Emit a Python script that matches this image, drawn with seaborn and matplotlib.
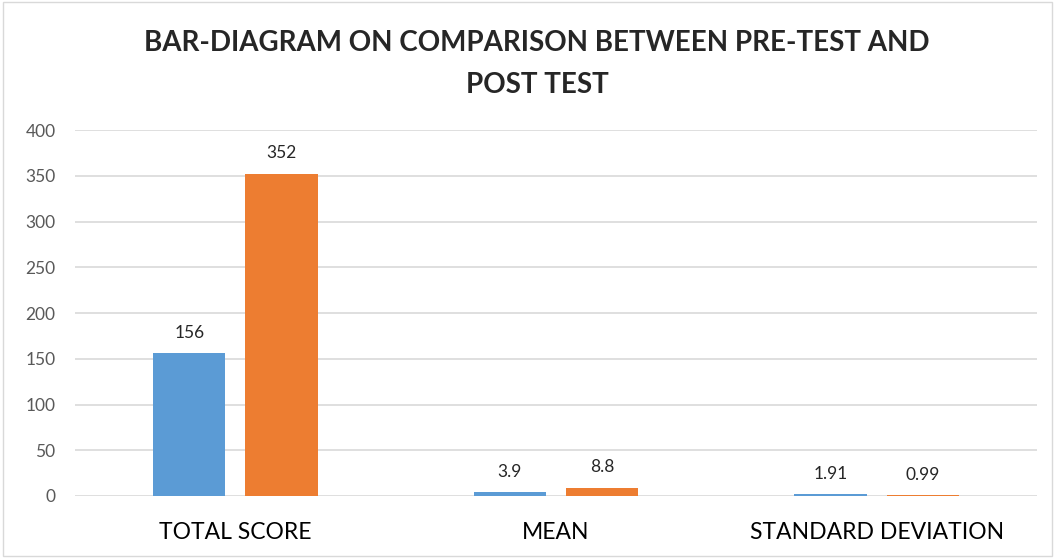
# Bar diagram: pre-test vs post-test comparison
import pandas as pd
import matplotlib.pyplot as plt
import seaborn as sns

# Data
categories = ["TOTAL SCORE", "MEAN", "STANDARD DEVIATION"]
pre_test = [156, 3.9, 1.91]
post_test = [352, 8.8, 0.99]
pre_labels = ["156", "3.9", "1.91"]
post_labels = ["352", "8.8", "0.99"]

df = pd.DataFrame({
    "category": categories * 2,
    "test": ["Pre-Test"] * 3 + ["Post Test"] * 3,
    "value": pre_test + post_test,
})

sns.set_style("white")
plt.rcParams["font.family"] = ["Lato", "DejaVu Sans"]

fig = plt.figure(figsize=(10.55, 5.58), dpi=100)
ax = fig.add_axes([75 / 1055, 62 / 558, 962 / 1055, 366 / 558])

sns.barplot(
    data=df, x="category", y="value", hue="test",
    palette=["#5B9BD5", "#ED7D31"], saturation=1,
    width=0.575, gap=0.217, legend=False, linewidth=0, ax=ax,
)

ax.set_ylim(0, 400)
ax.set_yticks(range(0, 401, 50))
ax.yaxis.grid(True, color="#D9D9D9", linewidth=1.2)
ax.set_axisbelow(True)
for s in ax.spines.values():
    s.set_visible(False)
ax.set_xlabel("")
ax.set_ylabel("")
ax.tick_params(axis="y", labelsize=12.5, colors="#595959", length=0, pad=14)
ax.tick_params(axis="x", labelsize=16.5, colors="#000000", length=0, pad=19)

# value labels above each bar
for container, labels in zip(ax.containers, [pre_labels, post_labels]):
    ax.bar_label(container, labels=labels, padding=9, fontsize=12.5, color="#262626")

fig.text(0.509, 0.885, "BAR-DIAGRAM ON COMPARISON BETWEEN PRE-TEST AND\nPOST TEST",
         ha="center", va="center", fontsize=20, fontweight="bold",
         linespacing=1.75)

# thin outer frame like the source image
fig.patches.append(plt.Rectangle((0.003, 0.003), 0.994, 0.994, transform=fig.transFigure,
                                 fill=False, edgecolor="#D9D9D9", linewidth=1))

fig.savefig("out.png", dpi=100)
